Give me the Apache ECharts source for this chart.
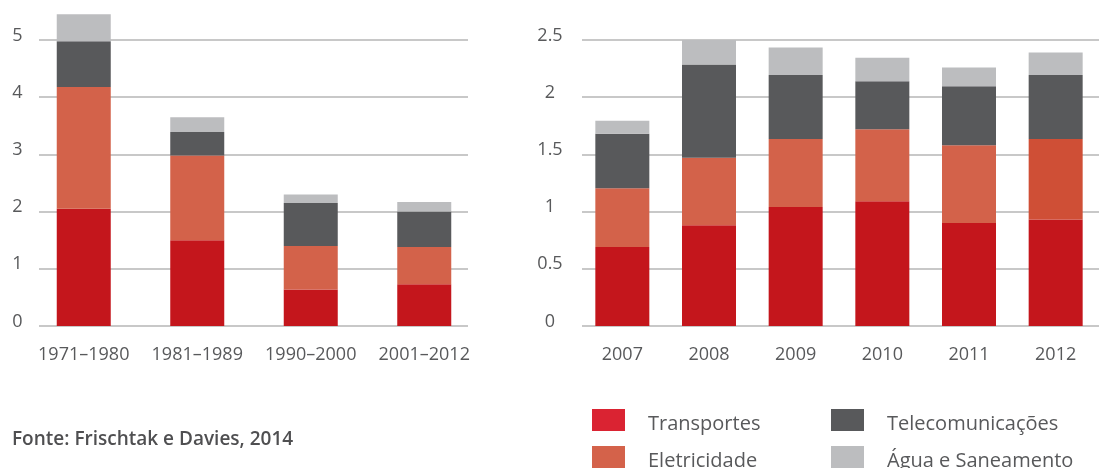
<!DOCTYPE html>
<html>
<head>
<meta charset="utf-8">
<script src="https://cdn.jsdelivr.net/npm/echarts@6/dist/echarts.min.js"></script>
<style>
  html, body { margin: 0; padding: 0; background: #fff; }
  #root { width: 1099px; height: 468px; }
</style>
</head>
<body>
<div id="root"></div>
<script>
  // decades (left panel)
  const decades = ['1971–1980', '1981–1989', '1990–2000', '2001–2012'];
  const decTransportes = [2.05, 1.5, 0.64, 0.73];
  const decEletricidade = [2.13, 1.48, 0.76, 0.65];
  const decTelecom = [0.8, 0.41, 0.75, 0.62];
  const decAgua = [0.47, 0.26, 0.15, 0.17];

  // years (right panel)
  const years = ['2007', '2008', '2009', '2010', '2011', '2012'];
  const yrTransportes = [0.69, 0.88, 1.04, 1.09, 0.9, 0.93];
  const yrEletricidade = [0.515, 0.59, 0.595, 0.63, 0.68, 0.705];
  const yrTelecom = [0.475, 0.815, 0.56, 0.42, 0.515, 0.56];
  const yrAgua = [0.115, 0.215, 0.24, 0.205, 0.165, 0.195];

  const names = ['Transportes', 'Eletricidade', 'Telecomunicações', 'Água e Saneamento'];
  const barColors = ['#c4161c', '#d3624a', '#58595b', '#bcbdbf'];
  const legendColors = ['#da2332', '#d4624a', '#58595b', '#bcbdbf'];

  const font = '"Open Sans", "Noto Sans", sans-serif';
  const txt = '#58595b';

  var makeSeries = (axisIdx, lists) => {
    return lists.map((vals, i) => ({
      name: names[i],
      type: 'bar',
      stack: 'tot' + axisIdx,
      xAxisIndex: axisIdx,
      yAxisIndex: axisIdx,
      barWidth: 54,
      clip: false,
      itemStyle: { color: barColors[i] },
      data: vals.slice()
    }));
  };

  const rightSeries = makeSeries(2, [yrTransportes, yrEletricidade, yrTelecom, yrAgua]);
  // 2012 eletricidade is a slightly darker orange in the source
  rightSeries[1].data[5] = { value: yrEletricidade[5], itemStyle: { color: '#cf4f36' } };

  const yLabel = (margin) => ({
    color: txt, fontSize: 18, fontFamily: font, align: 'center',
    verticalAlign: 'bottom', lineHeight: 9, margin
  });
  const xLabel = { color: txt, fontSize: 18, fontFamily: font, margin: 20, interval: 0 };
  const split = { show: true, lineStyle: { color: '#c8c8c8', width: 2 } };

  // one legend block per item so the 2x2 layout is exact
  const legendPos = [[592, 409], [592, 446], [831, 409], [831, 446]];
  const legends = names.map((n, i) => ({
    left: legendPos[i][0], top: legendPos[i][1], padding: 0,
    itemWidth: 33, itemHeight: 22, icon: 'rect',
    formatter: '{t|{name}}',
    textStyle: {
      rich: { t: { color: txt, fontSize: 20, fontFamily: font, padding: [9, 0, 0, 18] } }
    },
    data: [{ name: n, itemStyle: { color: legendColors[i] } }]
  }));

  const chart = echarts.init(document.getElementById('root'));
  chart.setOption({
    animation: false,
    grid: [
      { left: 27, top: 40, width: 454, height: 286 },   // left bars
      { left: 39, top: 40, width: 429, height: 286 },   // left gridlines
      { left: 579, top: 40, width: 530, height: 286 },  // right bars
      { left: 582, top: 40, width: 517, height: 286 }   // right gridlines
    ],
    xAxis: [
      { gridIndex: 0, type: 'category', data: decades, axisLine: { show: false }, axisTick: { show: false }, axisLabel: xLabel },
      { gridIndex: 1, type: 'category', data: decades, show: false },
      { gridIndex: 2, type: 'category', data: years, axisLine: { show: false }, axisTick: { show: false }, axisLabel: xLabel },
      { gridIndex: 3, type: 'category', data: years, show: false }
    ],
    yAxis: [
      { gridIndex: 0, type: 'value', min: 0, max: 5, show: false },
      { gridIndex: 1, type: 'value', min: 0, max: 5, interval: 1, splitLine: split, axisLabel: yLabel(21.5) },
      { gridIndex: 2, type: 'value', min: 0, max: 2.5, show: false },
      { gridIndex: 3, type: 'value', min: 0, max: 2.5, interval: 0.5, splitLine: split, axisLabel: yLabel(32) }
    ],
    legend: legends,
    graphic: [{
      type: 'text', left: 12, top: 430,
      style: { text: 'Fonte: Frischtak e Davies, 2014', fill: '#4f4f51', font: '600 19px ' + font }
    }],
    series: makeSeries(0, [decTransportes, decEletricidade, decTelecom, decAgua]).concat(rightSeries)
  });
</script>
</body>
</html>
